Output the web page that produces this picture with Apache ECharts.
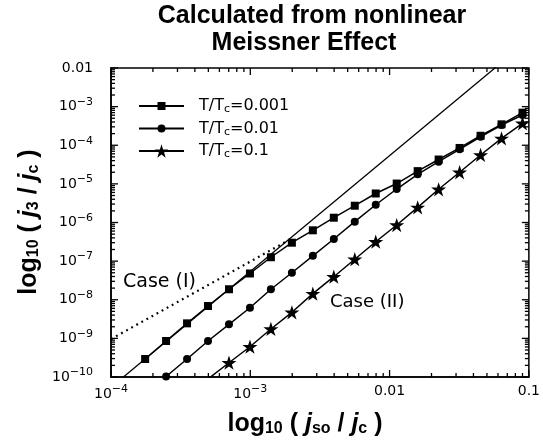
<!DOCTYPE html>
<html><head><meta charset="utf-8">
<script src="https://cdn.jsdelivr.net/npm/echarts@6/dist/echarts.min.js"></script>
<style>html,body{margin:0;padding:0;background:#fff}#c{width:543px;height:444px}</style>
</head><body><div id="c"></div>
<script>
// x values (j_so / j_c)
const jso = [0.0001758, 0.0002486, 0.0003516, 0.0004972, 0.0007031, 0.0009944, 0.001406, 0.001989, 0.002813, 0.003977, 0.005625, 0.007955, 0.01125, 0.01591, 0.0225, 0.03182, 0.045, 0.06364, 0.09];
// y values (j_3 / j_c), aligned to the end of jso
const j3_T0001 = [2.92e-10, 8.55e-10, 2.45e-9, 6.89e-9, 1.87e-8, 4.79e-8, 1.26e-7, 3.00e-7, 6.28e-7, 1.33e-6, 2.72e-6, 5.64e-6, 1.02e-5, 2.14e-5, 4.27e-5, 8.51e-5, 1.76e-4, 3.48e-4, 6.97e-4];
const j3_T001 = [1.03e-10, 2.92e-10, 8.55e-10, 2.31e-9, 6.22e-9, 1.87e-8, 5.01e-8, 1.37e-7, 3.74e-7, 1.05e-6, 2.88e-6, 7.36e-6, 1.77e-5, 3.75e-5, 7.85e-5, 1.66e-4, 3.34e-4, 6.07e-4];
const j3_T01 = [8.9e-11, 2.34e-10, 6.08e-10, 1.75e-9, 4.73e-9, 1.44e-8, 3.95e-8, 1.12e-7, 3.18e-7, 8.61e-7, 2.47e-6, 7.24e-6, 2.00e-5, 5.60e-5, 1.51e-4, 3.70e-4];
const seriesNames = ['T/Tc=0.001', 'T/Tc=0.01', 'T/Tc=0.1'];
// reference lines
const caseII_x = [1e-4, 0.1];
const caseII_y = [5.4e-11, 0.0538];
const caseI_x = [1e-4, 0.00178];
const caseI_y = [9.6e-10, 3.1e-7];
// axis ranges and tick values
const xMin = 1e-4, xMax = 0.1, yMin = 1e-10, yMax = 0.01;
const xDecades = [-4, -3, -2];
const yDecades = [-10, -9, -8, -7, -6, -5, -4, -3];

const FONT = 'DejaVu Sans';
const BOLD = 'Liberation Sans';
const star = 'path://M50 0 L61.2 34.5 L97.6 34.5 L68.2 55.9 L79.4 90.5 L50 69.1 L20.6 90.5 L31.8 55.9 L2.4 34.5 L38.8 34.5 Z';

function pairs(ys) { const off = jso.length - ys.length; return ys.map((y, i) => [jso[off + i], y]); }
function ticks(decs, last) {
  const out = [];
  decs.forEach(d => { for (let m = 1; m <= 9; m++) out.push([m * Math.pow(10, d), m === 1 ? 1 : 0]); });
  out.push([last, 1]);
  return out;
}
const xTicks = ticks(xDecades, xMax).map(t => [t[0], yMin, t[1]]);
const yTicks = ticks(yDecades, yMax).map(t => [xMin, t[0], t[1]]);

const lineStyle = { color: '#000', width: 1.5 };
function mkSeries(name, ys, symbol, size) {
  return { name, type: 'line', data: pairs(ys), symbol, symbolSize: size, symbolKeepAspect: true,
    showAllSymbol: true, clip: true, lineStyle, itemStyle: { color: '#000' }, z: 5, animation: false };
}
function expLabel(v) {
  const e = Math.round(Math.log10(v));
  if (e === -2) return '0.01';
  if (e === -1) return '0.1';
  return '{n|10}{e|\u2212' + (-e) + '}';
}
const labelRich = { n: { fontSize: 14, fontFamily: FONT, color: '#000' }, e: { fontSize: 11, fontFamily: FONT, color: '#000', padding: [0, 0, 9, 0] } };
const legendText = { color: '#000', padding: [0, 0, 0, 10], rich: {
  a: { fontSize: 16, fontFamily: FONT, color: '#000', lineHeight: 20 },
  s: { fontSize: 11, fontFamily: FONT, color: '#000', padding: [7, 0, 0, 0] } } };
function legendFmt(n) { return '{a|T/T}{s|c}{a|=' + n.split('=')[1] + '}'; }
function mkLegend(name, top, h) {
  return { orient: 'vertical', left: 133, top: top - 10, itemWidth: 45, itemHeight: h, data: [name], formatter: legendFmt, textStyle: legendText, selectedMode: false };
}
const nameRich = { b: { fontSize: 25, fontWeight: 'bold', fontFamily: BOLD, fill: '#000' },
  i: { fontSize: 25, fontWeight: 'bold', fontStyle: 'italic', fontFamily: BOLD, fill: '#000' },
  s: { fontSize: 16, fontWeight: 'bold', fontFamily: BOLD, fill: '#000', padding: [10, 0, 0, 0] } };

const chart = echarts.init(document.getElementById('c'), null, { renderer: 'canvas' });
chart.setOption({
  animation: false,
  backgroundColor: '#fff',
  grid: { left: 111, top: 68, right: 10, bottom: 67, show: true, borderColor: '#000', borderWidth: 1.5, backgroundColor: 'transparent' },
  xAxis: { type: 'log', logBase: 10, min: xMin, max: xMax, splitNumber: 3,
    axisLine: { lineStyle: { color: '#000', width: 1.5 } }, axisTick: { show: false }, splitLine: { show: false },
    axisLabel: { margin: 7, formatter: expLabel, rich: labelRich, fontSize: 14, fontFamily: FONT, color: '#000', showMinLabel: true, showMaxLabel: true } },
  yAxis: { type: 'log', logBase: 10, min: yMin, max: yMax, splitNumber: 8,
    axisLine: { lineStyle: { color: '#000', width: 1.5 } }, axisTick: { show: false }, splitLine: { show: false },
    axisLabel: { margin: 18, formatter: expLabel, rich: labelRich, fontSize: 14, fontFamily: FONT, color: '#000', showMinLabel: true, showMaxLabel: true } },
  legend: [ mkLegend(seriesNames[0], 103, 10), mkLegend(seriesNames[1], 125.5, 10), mkLegend(seriesNames[2], 148, 17) ],
  graphic: [
    { type: 'text', x: 312, y: 16, style: { text: 'Calculated from nonlinear', fontSize: 25, fontWeight: 'bold', fontFamily: BOLD, fill: '#000', align: 'center', verticalAlign: 'middle' } },
    { type: 'text', x: 304, y: 43, style: { text: 'Meissner Effect', fontSize: 25, fontWeight: 'bold', fontFamily: BOLD, fill: '#000', align: 'center', verticalAlign: 'middle' } },
    { type: 'text', x: 123, y: 282, style: { text: 'Case (I)', fontSize: 19, fontFamily: FONT, fill: '#000', align: 'left', verticalAlign: 'middle' } },
    { type: 'text', x: 330, y: 302, style: { text: 'Case (II)', fontSize: 18, fontFamily: FONT, fill: '#000', align: 'left', verticalAlign: 'middle' } },
    { type: 'text', x: 305, y: 424, style: { text: '{b|log}{s|10}{b| ( }{i|j}{s|so}{b| / }{i|j}{s|c}{b| )}', align: 'center', verticalAlign: 'middle', rich: nameRich } },
    { type: 'text', x: 29, y: 222, rotation: Math.PI / 2, style: { text: '{b|log}{s|10}{b| ( }{i|j}{s|3}{b| / }{i|j}{s|c}{b| )}', align: 'center', verticalAlign: 'middle', rich: nameRich } }
  ],
  series: [
    mkSeries(seriesNames[0], j3_T0001, 'rect', 8),
    mkSeries(seriesNames[1], j3_T001, 'circle', 8),
    mkSeries(seriesNames[2], j3_T01, star, 15),
    { type: 'line', data: caseII_x.map((x, i) => [x, caseII_y[i]]), symbol: 'none', clip: true, lineStyle: { color: '#000', width: 1.3 }, z: 3, silent: true },
    { type: 'line', data: caseI_x.map((x, i) => [x, caseI_y[i]]), symbol: 'none', clip: true, lineStyle: { color: '#000', width: 2.2, type: [1.8, 4] }, z: 3, silent: true },
    { type: 'custom', data: xTicks, encode: { x: 0, y: 1 }, clip: false, silent: true, z: 4,
      renderItem: (p, api) => {
        const v = api.value(0), len = api.value(2) ? 7 : 4;
        const b = api.coord([v, yMin]), t = api.coord([v, yMax]);
        return { type: 'group', children: [
          { type: 'line', shape: { x1: b[0], y1: b[1], x2: b[0], y2: b[1] - len }, style: { stroke: '#000', lineWidth: 1.3 } },
          { type: 'line', shape: { x1: t[0], y1: t[1], x2: t[0], y2: t[1] + len }, style: { stroke: '#000', lineWidth: 1.3 } } ] };
      } },
    { type: 'custom', data: yTicks, encode: { x: 0, y: 1 }, clip: false, silent: true, z: 4,
      renderItem: (p, api) => {
        const v = api.value(1), len = api.value(2) ? 7 : 4;
        const l = api.coord([xMin, v]), r = api.coord([xMax, v]);
        return { type: 'group', children: [
          { type: 'line', shape: { x1: l[0], y1: l[1], x2: l[0] + len, y2: l[1] }, style: { stroke: '#000', lineWidth: 1.3 } },
          { type: 'line', shape: { x1: r[0], y1: r[1], x2: r[0] - len, y2: r[1] }, style: { stroke: '#000', lineWidth: 1.3 } } ] };
      } }
  ]
});
</script></body></html>
